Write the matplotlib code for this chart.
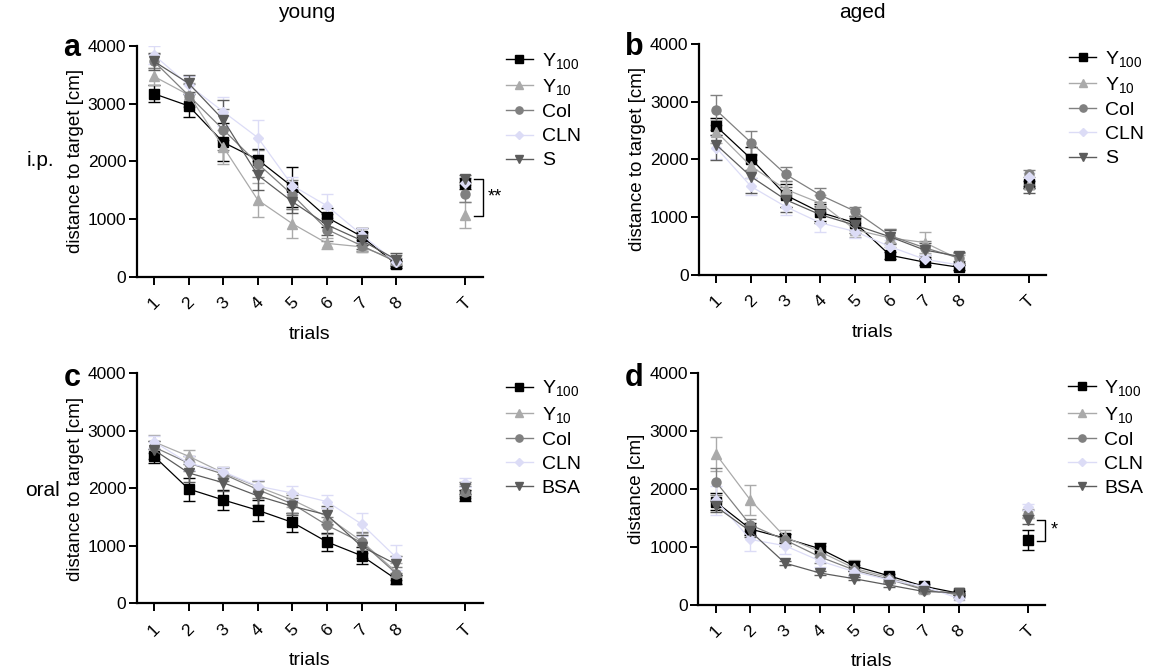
import matplotlib
matplotlib.use("Agg")
import matplotlib.pyplot as plt
from matplotlib.lines import Line2D
import numpy as np

plt.rcParams["font.family"] = ["Liberation Sans", "DejaVu Sans"]
plt.rcParams["mathtext.fontset"] = "custom"
plt.rcParams["mathtext.rm"] = "Liberation Sans"
plt.rcParams["mathtext.it"] = "Liberation Sans:italic"

# trials 1-8 plus the probe trial T (drawn at x=10)
trial_x = [1, 2, 3, 4, 5, 6, 7, 8, 10]
trial_labels = ["1", "2", "3", "4", "5", "6", "7", "8", "T"]

# a: young, i.p.
a_y100 = [3170, 2960, 2330, 2030, 1560, 1030, 700, 220, 1620]
a_y100_err = [150, 200, 330, 180, 350, 170, 150, 60, 100]
a_y10 = [3470, 3150, 2250, 1330, 920, 580, 520, 290, 1070]
a_y10_err = [150, 200, 300, 300, 250, 100, 90, 80, 220]
a_col = [3730, 3140, 2550, 1960, 1420, 820, 540, 260, 1440]
a_col_err = [120, 200, 350, 230, 250, 200, 100, 70, 150]
a_cln = [3840, 3320, 2860, 2410, 1580, 1230, 730, 250, 1630]
a_cln_err = [150, 150, 250, 300, 150, 200, 120, 60, 80]
a_s = [3730, 3350, 2720, 1760, 1300, 900, 630, 300, 1700]
a_s_err = [150, 150, 350, 250, 200, 180, 150, 120, 60]

# b: aged, i.p.
b_y100 = [2570, 2010, 1380, 1080, 900, 340, 220, 130, 1570]
b_y100_err = [150, 200, 200, 150, 120, 60, 50, 40, 60]
b_y10 = [2480, 1880, 1480, 1240, 780, 640, 560, 270, 1570]
b_y10_err = [200, 200, 150, 150, 120, 150, 190, 80, 60]
b_col = [2850, 2290, 1740, 1380, 1100, 680, 470, 290, 1750]
b_col_err = [260, 200, 120, 120, 80, 120, 120, 80, 60]
b_cln = [2200, 1530, 1180, 900, 750, 490, 270, 170, 1700]
b_cln_err = [200, 150, 150, 150, 120, 120, 80, 50, 60]
b_s = [2250, 1700, 1300, 1040, 860, 660, 430, 320, 1480]
b_s_err = [260, 280, 220, 150, 130, 120, 120, 80, 60]

# c: young, oral
c_y100 = [2560, 1990, 1800, 1620, 1410, 1070, 830, 420, 1880]
c_y100_err = [120, 200, 170, 180, 160, 160, 150, 80, 100]
c_y10 = [2810, 2560, 2270, 2030, 1800, 1510, 1080, 550, 1970]
c_y10_err = [120, 100, 90, 100, 120, 150, 150, 150, 100]
c_col = [2720, 2440, 2250, 1980, 1730, 1360, 1060, 520, 1940]
c_col_err = [100, 130, 120, 150, 150, 150, 180, 120, 100]
c_cln = [2810, 2440, 2290, 2040, 1920, 1770, 1380, 800, 2100]
c_cln_err = [100, 120, 80, 100, 120, 110, 200, 210, 80]
c_bsa = [2670, 2270, 2100, 1870, 1690, 1540, 990, 680, 2010]
c_bsa_err = [150, 150, 150, 150, 150, 150, 200, 150, 100]

# d: aged, oral
d_y100 = [1780, 1310, 1150, 970, 670, 500, 320, 200, 1120]
d_y100_err = [150, 100, 80, 100, 80, 40, 40, 30, 180]
d_y10 = [2610, 1810, 1170, 920, 630, 470, 270, 170, 1580]
d_y10_err = [290, 260, 120, 100, 150, 60, 40, 30, 70]
d_col = [2130, 1380, 1120, 830, 600, 440, 260, 180, 1570]
d_col_err = [230, 100, 100, 100, 80, 50, 40, 30, 70]
d_cln = [1810, 1130, 1020, 760, 570, 430, 320, 110, 1690]
d_cln_err = [250, 200, 150, 100, 80, 50, 40, 30, 50]
d_bsa = [1700, 1270, 720, 550, 450, 340, 230, 210, 1470]
d_bsa_err = [100, 100, 40, 40, 30, 30, 30, 30, 80]

# marker / colour for each group
styles = [
    ("s", "#000000"),
    ("^", "#aaaaaa"),
    ("o", "#808080"),
    ("D", "#dcdcf6"),
    ("v", "#5c5c5c"),
]


def draw_panel(ax, series, errors, labels, ylabel, bracket=None, stars=""):
    x = np.array(trial_x)
    handles = []
    for (mk, col), y, e, lab in zip(styles, series, errors, labels):
        y = np.array(y)
        e = np.array(e)
        ms = 5.5 if mk == "D" else 6.5
        # learning curve over trials 1-8
        ax.errorbar(x[:8], y[:8], yerr=e[:8], color=col, marker=mk, ms=ms,
                    lw=0.9, elinewidth=1.0, capsize=4, capthick=1.0)
        # probe trial, not connected
        ax.errorbar(x[8:], y[8:], yerr=e[8:], color=col, marker=mk, ms=ms,
                    lw=0, elinewidth=1.0, capsize=4, capthick=1.0)
        handles.append(Line2D([], [], color=col, marker=mk, lw=1.0,
                              ms=ms * 0.8, label=lab))

    ax.set_xlim(0.5, 10.5)
    ax.set_ylim(0, 4000)
    ax.set_yticks([0, 1000, 2000, 3000, 4000])
    ax.set_xticks(trial_x)
    ax.set_xticklabels(trial_labels, rotation=45, ha="center")
    ax.spines["top"].set_visible(False)
    ax.spines["right"].set_visible(False)
    for sp in ("left", "bottom"):
        ax.spines[sp].set_linewidth(1.6)
    ax.tick_params(width=1.4, length=6, labelsize=12.5)
    ax.tick_params(axis="y", pad=1.5)
    ax.tick_params(axis="x", pad=7)
    ax.set_ylabel(ylabel, fontsize=13.5, labelpad=3)
    ax.set_xlabel("trials", fontsize=14, labelpad=9)

    if bracket is not None:
        top, bot = bracket
        xb = 10.5
        ax.plot([xb - 0.25, xb, xb, xb - 0.25], [top, top, bot, bot],
                color="black", lw=1.0, clip_on=False)
        ax.text(xb + 0.15, (top + bot) / 2, stars, fontsize=13,
                va="center", ha="left")

    ax.legend(handles=handles, loc="upper left", bbox_to_anchor=(1.044, 1.012),
              frameon=False, fontsize=14, handlelength=1.4,
              handletextpad=0.45, labelspacing=0.33, borderaxespad=0)


fig = plt.figure(figsize=(11.51, 6.72), dpi=100)
ax_a = fig.add_axes([0.1188, 0.588, 0.3006, 0.3438])
ax_b = fig.add_axes([0.6073, 0.591, 0.3015, 0.3438])
ax_c = fig.add_axes([0.1188, 0.102, 0.3006, 0.3423])
ax_d = fig.add_axes([0.6067, 0.100, 0.3015, 0.3445])

lab_ip = [r"Y$_{100}$", r"Y$_{10}$", "Col", "CLN", "S"]
lab_oral = [r"Y$_{100}$", r"Y$_{10}$", "Col", "CLN", "BSA"]

draw_panel(ax_a, [a_y100, a_y10, a_col, a_cln, a_s],
           [a_y100_err, a_y10_err, a_col_err, a_cln_err, a_s_err],
           lab_ip, "distance to target [cm]", bracket=(1700, 1060), stars="**")
draw_panel(ax_b, [b_y100, b_y10, b_col, b_cln, b_s],
           [b_y100_err, b_y10_err, b_col_err, b_cln_err, b_s_err],
           lab_ip, "distance to target [cm]")
draw_panel(ax_c, [c_y100, c_y10, c_col, c_cln, c_bsa],
           [c_y100_err, c_y10_err, c_col_err, c_cln_err, c_bsa_err],
           lab_oral, "distance to target [cm]")
draw_panel(ax_d, [d_y100, d_y10, d_col, d_cln, d_bsa],
           [d_y100_err, d_y10_err, d_col_err, d_cln_err, d_bsa_err],
           lab_oral, "distance [cm]", bracket=(1470, 1110), stars="*")

# panel letters, column and row headings
for txt, x, y in [("a", 72, 48), ("b", 634, 47), ("c", 72, 378), ("d", 634, 378)]:
    fig.text(x / 1151, 1 - y / 672, txt, fontsize=22, fontweight="bold",
             ha="center", va="center")
fig.text(307 / 1151, 1 - 13 / 672, "young", fontsize=15, ha="center", va="center")
fig.text(862 / 1151, 1 - 13 / 672, "aged", fontsize=15, ha="center", va="center")
fig.text(40 / 1151, 1 - 160 / 672, "i.p.", fontsize=15, ha="center", va="center")
fig.text(42 / 1151, 1 - 490 / 672, "oral", fontsize=15, ha="center", va="center")

fig.savefig("out.png", dpi=100)
